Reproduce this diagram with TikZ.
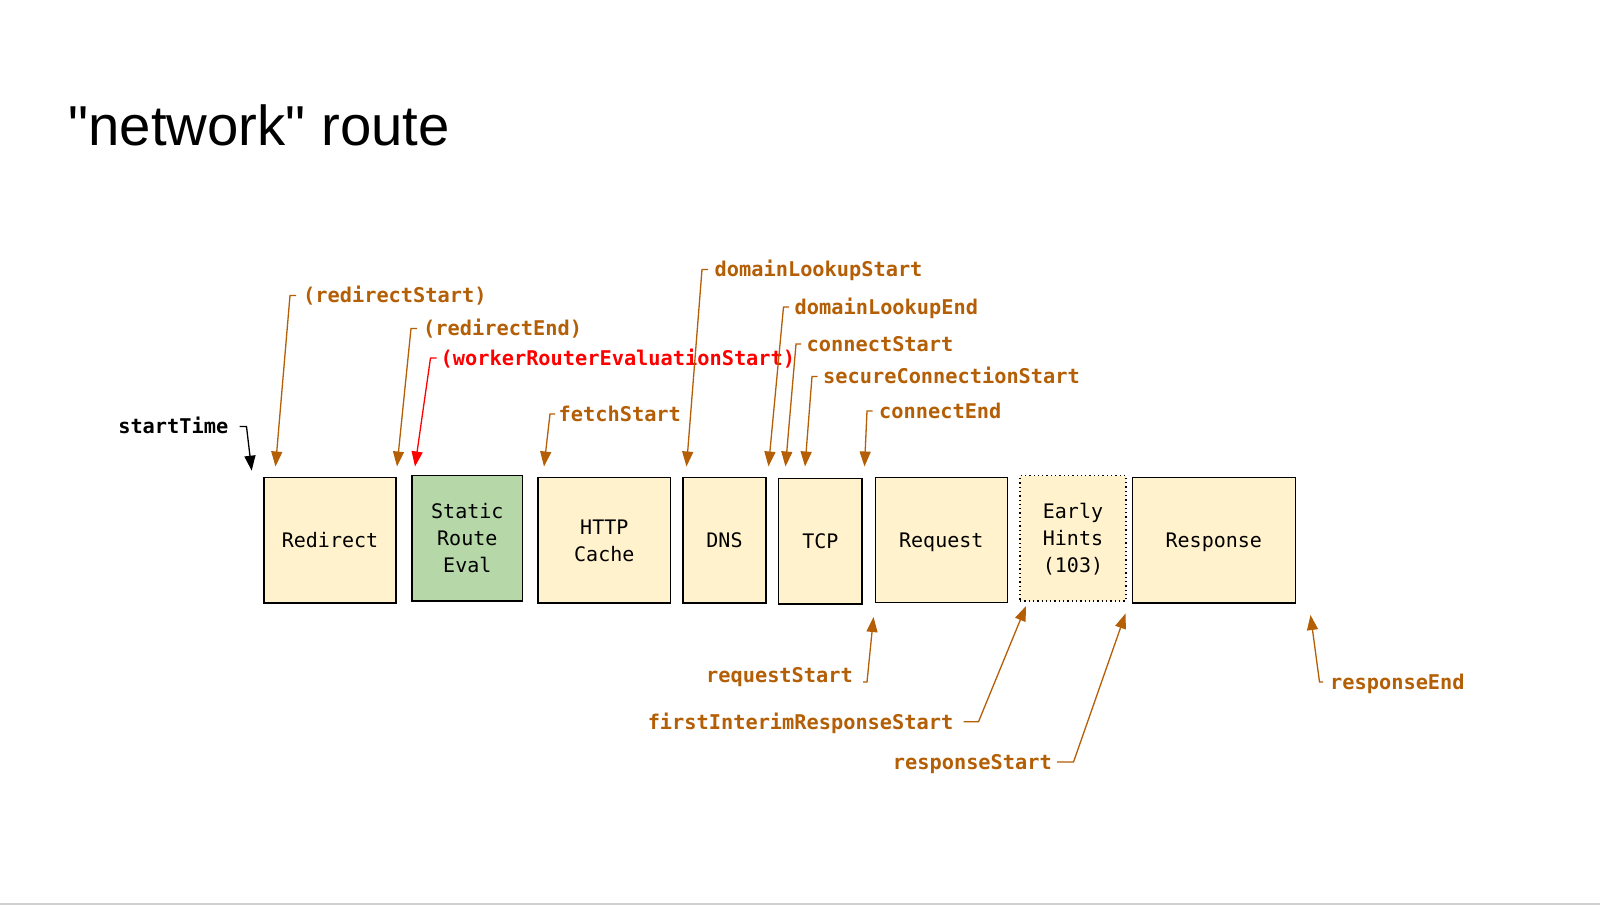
\documentclass[tikz,border=0pt]{standalone}
\usepackage{fontspec}
\newfontfamily\titlefont{Liberation Sans}
\newfontfamily\monofont{DejaVu Sans Mono}
\usetikzlibrary{arrows.meta}
\definecolor{lab}{RGB}{180,95,6}
\definecolor{boxfill}{RGB}{255,242,204}
\definecolor{greenfill}{RGB}{182,215,168}
\definecolor{edgegray}{RGB}{208,208,208}
\newcommand{\straightquote}{\XeTeXglyph\XeTeXcharglyph"22\relax}
\begin{document}
\begin{tikzpicture}[x=1pt,y=-1pt,
  stage/.style={draw=black, line width=1.3pt, fill=boxfill, inner sep=0pt, align=center,
    text depth=0pt, font=\monofont\fontsize{20}{27}\selectfont},
  lbl/.style={font=\monofont\bfseries\fontsize{20.3}{24}\selectfont, text=lab, inner sep=0pt,
    text height=14.9pt, text depth=0pt},
  conn/.style={draw=lab, line width=1.3pt, -{Triangle[length=15pt,width=11pt]}},
]
\useasboundingbox (0,0) rectangle (1600,905);
\fill[white] (0,0) rectangle (1600,905);
\fill[edgegray] (0,902.5) rectangle (1600,905);

% title
\node[anchor=base west, inner sep=0pt, font=\titlefont\fontsize{56.3}{60}\selectfont] (title) at (68.5,145) {\straightquote network\straightquote{} route};

% stages
\node[stage, minimum width=132pt, minimum height=125.5pt] (redirect) at (330,540.3) {Redirect};
\node[stage, fill=greenfill, minimum width=110.5pt, minimum height=125.5pt] (sre) at (467.3,538.3) {Static\\Route\\Eval};
\node[stage, minimum width=132.5pt, minimum height=125.5pt] (http) at (604.3,540.3) {HTTP\\Cache};
\node[stage, minimum width=83pt, minimum height=125.5pt] (dns) at (724.5,540.3) {DNS};
\node[stage, minimum width=83.5pt, minimum height=125.5pt] (tcp) at (820.3,541.3) {TCP};
\node[stage, minimum width=132pt, minimum height=125.5pt] (req) at (941.3,540) {Request};
\node[stage, dash pattern=on 1.3pt off 3pt, minimum width=106pt, minimum height=125.3pt] (eh) at (1073,538.3) {Early\\Hints\\\smash{(103)}};
\node[stage, minimum width=163pt, minimum height=125.5pt] (resp) at (1213.8,540.3) {Response};

% arrow tips
\coordinate (t_st) at (251.7,470.7);
\coordinate (t_rs) at (275.5,466.5);
\coordinate (t_re) at (397,466.5);
\coordinate (t_wr) at (415,466.5);
\coordinate (t_fs) at (544,466.5);
\coordinate (t_dls) at (686.5,466.5);
\coordinate (t_dle) at (768.5,466.5);
\coordinate (t_cs) at (785.5,466.5);
\coordinate (t_scs) at (805,466.5);
\coordinate (t_ce) at (864.5,466.5);
\coordinate (t_rqs) at (873.5,617);
\coordinate (t_fir) at (1026,606);
\coordinate (t_rsp) at (1125.5,613.5);
\coordinate (t_rse) at (1310.5,615);

% top labels
\node[lbl, text=black, anchor=east] (st) at (228.5,426.5) {startTime};
\node[lbl, anchor=west] (rs) at (303,295.5) {(redirectStart)};
\node[lbl, anchor=west] (re) at (423,328.5) {(redirectEnd)};
\node[lbl, text=red, anchor=west] (wr) at (440.5,358) {(workerRouterEvaluationStart)};
\node[lbl, anchor=west] (fs) at (558.5,414) {fetchStart};
\node[lbl, anchor=west] (dls) at (714.5,269.5) {domainLookupStart};
\node[lbl, anchor=west] (dle) at (794.5,307) {domainLookupEnd};
\node[lbl, anchor=west] (cs) at (806.5,344) {connectStart};
\node[lbl, anchor=west] (scs) at (823,376.5) {secureConnectionStart};
\node[lbl, anchor=west] (ce) at (879,411) {connectEnd};

% bottom labels
\node[lbl, anchor=base east] (rqs) at (853,682) {requestStart};
\node[lbl, anchor=east] (fir) at (953.5,721.7) {firstInterimResponseStart};
\node[lbl, anchor=east] (rsp) at (1052,762) {responseStart};
\node[lbl, anchor=west] (rse) at (1330,682) {responseEnd};

% connectors
\draw[conn, draw=black] ([xshift=11]st.east) -- ++(7,0) -- (t_st);
\draw[conn] ([xshift=-7]rs.west) -- ++(-6,0) -- (t_rs);
\draw[conn] ([xshift=-6]re.west) -- ++(-6,0) -- (t_re);
\draw[conn, draw=red] ([xshift=-4]wr.west) -- ++(-6,0) -- (t_wr);
\draw[conn] ([xshift=-3.5]fs.west) -- ++(-5,0) -- (t_fs);
\draw[conn] ([xshift=-6.5]dls.west) -- ++(-6,0) -- (t_dls);
\draw[conn] ([xshift=-5.5]dle.west) -- ++(-5.5,0) -- (t_dle);
\draw[conn] ([xshift=-5.5]cs.west) -- ++(-5,0) -- (t_cs);
\draw[conn] ([xshift=-5.5]scs.west) -- ++(-5.5,0) -- (t_scs);
\draw[conn] ([xshift=-6.5]ce.west) -- ++(-5.5,0) -- (t_ce);
\draw[conn] ([xshift=10]rqs.base east) -- ++(4,0) -- (t_rqs);
\draw[conn] ([xshift=10]fir.east) -- ++(15,0) -- (t_fir);
\draw[conn] ([xshift=5]rsp.east) -- ++(16.5,0) -- (t_rsp);
\draw[conn] ([xshift=-7]rse.west) -- ++(-3.5,0) -- (t_rse);
\end{tikzpicture}
\end{document}
